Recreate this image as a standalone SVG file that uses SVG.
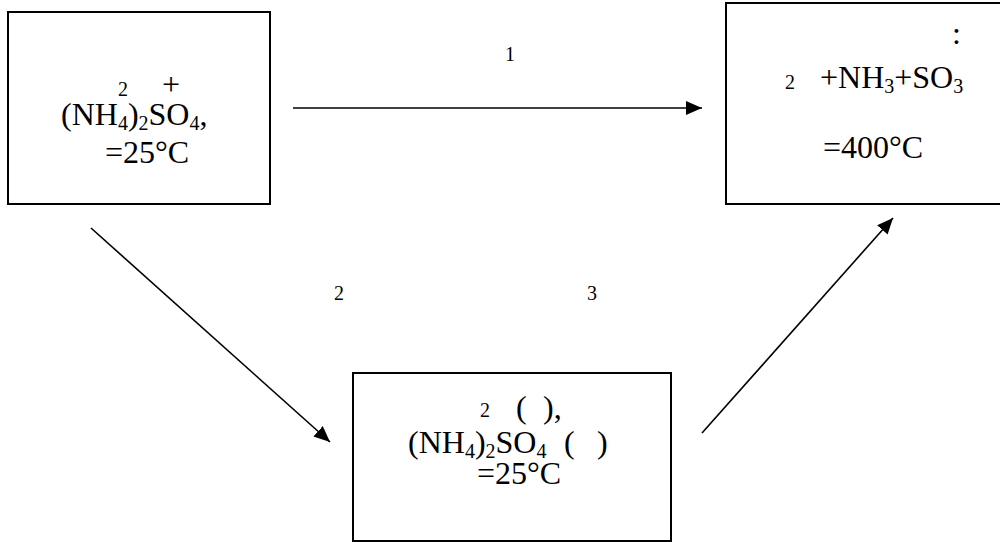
<svg xmlns="http://www.w3.org/2000/svg" width="1000" height="542" viewBox="0 0 1000 542">
<style>
.box{fill:#fff;stroke:#000;stroke-width:2}
text{font-family:'Liberation Serif','Times New Roman',serif;fill:#000}
.t{font-size:32px}
.s{font-size:20px}
.lbl{font-size:20px}
.arr{stroke:#000;stroke-width:1.6;fill:none;marker-end:url(#ah)}
</style>
<defs>
<marker id="ah" markerUnits="userSpaceOnUse" markerWidth="18" markerHeight="14" refX="16" refY="7" orient="auto">
<path d="M0,0 L16,7 L0,14 Z" fill="#000"/>
</marker>
</defs>
<rect width="1000" height="542" fill="#fff"/>
<g id="node-start">
<rect class="box" x="8" y="12" width="262" height="192"/>
<text class="s" x="118" y="96">2</text>
<text class="t" x="162" y="95">+</text>
<text class="t" x="61" y="125">(NH<tspan class="s" dy="5">4</tspan><tspan dy="-5">)</tspan><tspan class="s" dy="5">2</tspan><tspan dy="-5">SO</tspan><tspan class="s" dy="5">4</tspan><tspan dy="-5">,</tspan></text>
<text class="t" x="105" y="163">=25°C</text>
</g>
<g id="node-product">
<rect class="box" x="726" y="3" width="290" height="201"/>
<text class="t" x="952" y="44">:</text>
<text class="s" x="785" y="89">2</text>
<text class="t" x="820" y="88">+NH<tspan class="s" dy="5">3</tspan><tspan dy="-5">+SO</tspan><tspan class="s" dy="5">3</tspan></text>
<text class="t" x="823" y="158">=400°C</text>
</g>
<g id="node-intermediate">
<rect class="box" x="353" y="373" width="318" height="168"/>
<text class="s" x="480" y="417">2</text>
<text class="t" x="516" y="418">(</text>
<text class="t" x="543" y="418">),</text>
<text class="t" x="408" y="453">(NH<tspan class="s" dy="5">4</tspan><tspan dy="-5">)</tspan><tspan class="s" dy="5">2</tspan><tspan dy="-5">SO</tspan><tspan class="s" dy="5">4</tspan></text>
<text class="t" x="564" y="453">(</text>
<text class="t" x="597" y="453">)</text>
<text class="t" x="477" y="484">=25°C</text>
</g>
<g id="connectors">
<line class="arr" x1="293" y1="108" x2="702" y2="108"/>
<text class="lbl" x="505" y="61">1</text>
<line class="arr" x1="91" y1="228" x2="330" y2="442"/>
<text class="lbl" x="334" y="300">2</text>
<line class="arr" x1="702" y1="433" x2="893" y2="218"/>
<text class="lbl" x="587" y="300">3</text>
</g>
</svg>
